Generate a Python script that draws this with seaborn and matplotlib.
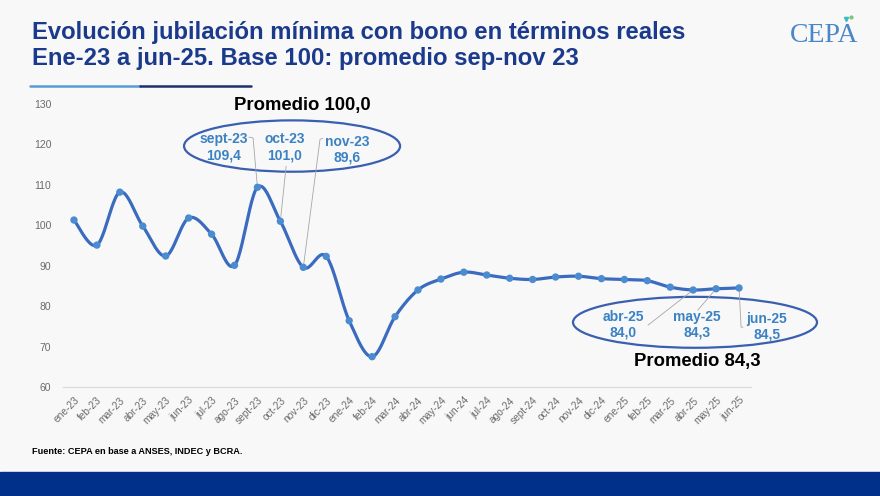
import numpy as np
import pandas as pd
import matplotlib
matplotlib.use("Agg")
import matplotlib.pyplot as plt
from matplotlib.patches import Ellipse, Rectangle
from matplotlib.lines import Line2D
import seaborn as sns

# ---------------- data ----------------
months = ["ene-23", "feb-23", "mar-23", "abr-23", "may-23", "jun-23", "jul-23", "ago-23",
          "sept-23", "oct-23", "nov-23", "dic-23", "ene-24", "feb-24", "mar-24", "abr-24",
          "may-24", "jun-24", "jul-24", "ago-24", "sept-24", "oct-24", "nov-24", "dic-24",
          "ene-25", "feb-25", "mar-25", "abr-25", "may-25", "jun-25"]
values = [101.3, 95.1, 108.2, 99.8, 92.4, 101.8, 97.8, 90.1,
          109.4, 101.0, 89.6, 92.3, 76.4, 67.5, 77.4, 84.0,
          86.7, 88.4, 87.7, 86.9, 86.6, 87.2, 87.4, 86.8,
          86.6, 86.3, 84.7, 84.0, 84.3, 84.5]
yticks = [60, 70, 80, 90, 100, 110, 120, 130]
title1 = "Evolución jubilación mínima con bono en términos reales"
title2 = "Ene-23 a jun-25. Base 100: promedio sep-nov 23"
source = "Fuente: CEPA en base a ANSES, INDEC y BCRA."
avg1_label = "Promedio 100,0"
avg2_label = "Promedio 84,3"
callouts1 = ["sept-23", "oct-23", "nov-23"]
callouts2 = ["abr-25", "may-25", "jun-25"]

df = pd.DataFrame({"mes": months, "valor": values, "x": np.arange(len(months))})

# ---------------- style ----------------
BG = "#f7f8f7"
sns.set_theme(style="white")
plt.rcParams["font.family"] = ["Liberation Sans", "DejaVu Sans"]

fig = plt.figure(figsize=(8.8, 4.96), dpi=100, facecolor=BG)
W, H = 880, 496
ax = fig.add_axes([62.5 / W, 1 - 387 / H, (750.5 - 62.5) / W, (387 - 104) / H])
ax.set_facecolor(BG)

# smoothed line (Catmull-Rom, like Excel "smoothed line")
def smooth(xs, ys, n=24):
    P = np.column_stack([xs, ys]).astype(float)
    out = []
    for i in range(len(P) - 1):
        p0 = P[max(i - 1, 0)]
        p1 = P[i]
        p2 = P[i + 1]
        p3 = P[min(i + 2, len(P) - 1)]
        c1 = p1 + (p2 - p0) / 6
        c2 = p2 - (p3 - p1) / 6
        t = np.linspace(0, 1, n, endpoint=(i == len(P) - 2))[:, None]
        seg = ((1 - t) ** 3) * p1 + 3 * ((1 - t) ** 2) * t * c1 + 3 * (1 - t) * t ** 2 * c2 + t ** 3 * p2
        out.append(seg)
    return np.vstack(out)

sm = smooth(df["x"].values, df["valor"].values)
ax.plot(sm[:, 0], sm[:, 1], color="#3a6bbf", lw=2.3, solid_capstyle="round", zorder=3)
sns.scatterplot(data=df, x="x", y="valor", ax=ax, color="#4a8ccf", s=28,
                edgecolor="none", zorder=4, legend=False)

ax.set_xlim(-0.5, len(months) - 0.5)
ax.set_ylim(60, 130)
ax.set_yticks(yticks)
ax.set_yticklabels([str(v) for v in yticks], fontsize=7.5, color="#6b6b6b")
ax.set_xticks(df["x"].values)
ax.set_xticklabels(months, rotation=45, ha="right", rotation_mode="anchor",
                   fontsize=7.3, color="#6b6b6b")
ax.set_xticks(np.arange(-0.5, len(months), 1), minor=True)
ax.tick_params(axis="x", which="major", length=0, pad=6)
ax.tick_params(axis="x", which="minor", length=4, color="#d9d9d9", width=0.8)
ax.tick_params(axis="y", length=0, pad=8)
ax.set_xlabel("")
ax.set_ylabel("")
for s in ["top", "right", "left"]:
    ax.spines[s].set_visible(False)
ax.spines["bottom"].set_color("#d9d9d9")
ax.spines["bottom"].set_linewidth(0.8)
ax.grid(False)

# ---------------- annotations ----------------
LAB = "#3b82c4"
ELL = "#3a5fb0"
GRAY = "#a6a6a6"
idx = {m: i for i, m in enumerate(months)}

def fmt(v):
    return f"{v:.1f}".replace(".", ",")

ax.text(9.94, 129.7, avg1_label, ha="center", va="center", fontsize=13.3,
        fontweight="bold", color="black", clip_on=False)
ax.add_patch(Ellipse((9.51, 119.6), 9.42, 12.7, fill=False, ec=ELL, lw=1.6, clip_on=False))
lab_pos1 = {"sept-23": (6.54, 119.3), "oct-23": (9.2, 119.3), "nov-23": (11.9, 118.7)}
lead1 = {"sept-23": [(7.63, 121.8), (7.81, 121.6)],
         "oct-23": [(9.25, 114.6)],
         "nov-23": [(10.85, 121.5), (10.73, 121.3)]}
for m in callouts1:
    x, y = lab_pos1[m]
    ax.text(x, y, f"{m}\n{fmt(values[idx[m]])}", ha="center", va="center", fontsize=10,
            fontweight="bold", color=LAB, linespacing=1.15, zorder=5)
    pts = lead1[m] + [(idx[m], values[idx[m]])]
    ax.plot([p[0] for p in pts], [p[1] for p in pts], color=GRAY, lw=0.6, zorder=2)

ax.add_patch(Ellipse((27.08, 76.0), 10.64, 12.6, fill=False, ec=ELL, lw=1.6, clip_on=False, zorder=2))
lab_pos2 = {"abr-25": (23.94, 75.3), "may-25": (27.17, 75.3), "jun-25": (30.22, 74.8)}
lead2 = {"abr-25": [(25.03, 75.3)],
         "may-25": [(27.2, 79.0)],
         "jun-25": [(29.17, 74.8), (29.09, 74.8)]}
for m in callouts2:
    x, y = lab_pos2[m]
    ax.text(x, y, f"{m}\n{fmt(values[idx[m]])}", ha="center", va="center", fontsize=10,
            fontweight="bold", color=LAB, linespacing=1.15, zorder=5, clip_on=False)
    pts = lead2[m] + [(idx[m], values[idx[m]])]
    ax.plot([p[0] for p in pts], [p[1] for p in pts], color=GRAY, lw=0.6, zorder=2, clip_on=False)
ax.text(27.17, 66.4, avg2_label, ha="center", va="center", fontsize=13.3,
        fontweight="bold", color="black", clip_on=False)

# ---------------- header / footer ----------------
TITLE = "#1b3a8c"
fig.text(32 / W, 1 - 32 / H, title1, fontsize=17.2, fontweight="bold", color=TITLE,
         ha="left", va="center")
fig.text(32 / W, 1 - 58 / H, title2, fontsize=17.2, fontweight="bold", color=TITLE,
         ha="left", va="center")
fig.add_artist(Line2D([30 / W, 140 / W], [1 - 86 / H] * 2, color="#5b9bd5", lw=1.8))
fig.add_artist(Line2D([140 / W, 251 / W], [1 - 86 / H] * 2, color="#1f2f6f", lw=1.8))

fig.text(824 / W, 1 - 35 / H, "CEPA", fontsize=20, color="#4a86c8", ha="center",
         va="center", family=["Liberation Serif", "DejaVu Serif"])
fig.add_artist(Line2D([846 / W], [1 - 19 / H], marker="v", ms=3, color="#3fb8c8", lw=0))
fig.add_artist(Line2D([851 / W], [1 - 17 / H], marker="o", ms=2, color="#7cc576", lw=0))

fig.text(32 / W, 1 - 452 / H, source, fontsize=6.6, fontweight="bold", color="black",
         ha="left", va="center")
fig.add_artist(Rectangle((0, 0), 1, 24 / H, transform=fig.transFigure,
                         color="#00308a", zorder=0))

fig.savefig("out.png", dpi=100, facecolor=BG)
